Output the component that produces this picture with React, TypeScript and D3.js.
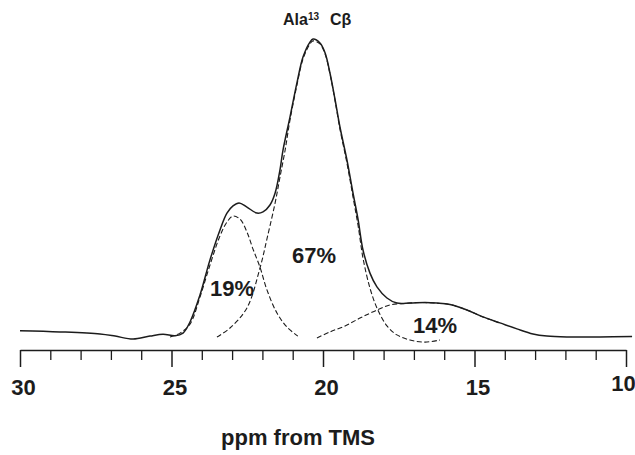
import React, { useRef, useEffect } from 'react';
import * as d3 from 'd3';

// [ppm, intensity]
const spectrumTotal: [number, number][] = [
  [30.0, 2.1], [28.68, 1.7], [27.36, 1.0], [26.86, 0.3], [26.27, -0.7], [25.71, 0.3],
  [25.28, 0.9], [24.88, 0.4], [24.62, 1.3], [24.39, 5.0], [24.06, 14.0], [23.73, 25.7],
  [23.4, 35.7], [23.17, 41.3], [22.97, 43.7], [22.77, 44.7], [22.51, 43.3], [22.18, 41.3],
  [21.98, 41.7], [21.75, 44.0], [21.58, 48.0], [21.42, 55.7], [21.32, 62.3], [21.09, 73.3],
  [20.86, 84.7], [20.66, 93.3], [20.43, 98.3], [20.33, 99.3], [20.1, 98.0], [19.93, 94.7],
  [19.77, 88.0], [19.6, 79.0], [19.44, 70.0], [19.21, 59.0], [19.01, 48.0], [18.84, 39.0],
  [18.68, 29.0], [18.45, 21.3], [18.22, 16.7], [17.89, 13.0], [17.56, 11.3], [17.13, 11.3],
  [16.63, 11.5], [16.24, 11.3], [15.81, 10.8], [15.25, 9.0], [14.72, 6.7], [14.16, 4.7],
  [13.6, 2.7], [13.07, 1.0], [12.61, 0.3], [11.95, 0.0], [10.86, 0.0], [9.8, 0.2],
];

const peak19: [number, number][] = [
  [25.05, 0], [24.72, 1.3], [24.39, 4.3], [24.06, 13.3], [23.73, 24.0], [23.4, 33.7],
  [23.17, 38.3], [22.97, 40.3], [22.74, 39.3], [22.51, 35.0], [22.31, 29.3], [22.08, 23.3],
  [21.85, 15.7], [21.52, 8.0], [21.19, 3.3], [20.83, 0.3],
];

const peak67: [number, number][] = [
  [23.5, 0], [23.07, 3.0], [22.51, 9.7], [22.08, 23.0], [21.82, 34.0], [21.58, 44.7],
  [21.42, 53.3], [21.25, 62.3], [21.09, 72.3], [20.86, 84.0], [20.66, 92.7], [20.43, 97.7],
  [20.33, 98.7], [20.1, 97.7], [19.93, 94.3], [19.77, 87.7], [19.6, 78.7], [19.44, 69.3],
  [19.21, 58.0], [19.01, 46.7], [18.84, 37.0], [18.68, 26.3], [18.45, 16.3], [18.22, 9.7],
  [17.89, 3.7], [17.56, 0.7], [17.13, -1.0], [16.63, -1.7], [16.14, -1.0],
];

const peak14: [number, number][] = [
  [20.2, -0.3], [19.77, 1.7], [19.27, 3.7], [18.78, 6.3], [18.28, 8.7], [17.79, 10.7],
  [17.29, 11.2], [16.8, 11.5], [16.3, 11.3], [15.81, 10.8], [15.25, 9.0], [14.72, 6.7],
  [14.16, 4.7],
];

const majorTicks = [30, 25, 20, 15, 10];
const minorTicks = d3.range(10, 31).filter(v => v % 5 !== 0);

const peakLabels = [
  { text: '19%', ppm: 23.73, value: 13.7 },
  { text: '67%', ppm: 21.02, value: 24.7 },
  { text: '14%', ppm: 17.03, value: 1.3 },
];

export default function App() {
  const svgRef = useRef<SVGSVGElement>(null);

  useEffect(() => {
    const svg = d3.select(svgRef.current);
    const width = 635;
    const height = 455;
    const font = "'Liberation Sans', Arial, Helvetica, sans-serif";
    const ink = '#1c1c1c';

    svg.attr('width', width).attr('height', height);
    svg.selectAll('*').remove();

    const x = d3.scaleLinear().domain([30, 10]).range([20, 626]);
    const y = d3.scaleLinear().domain([0, 100]).range([337, 37]);
    const axisY = 350;

    const line = d3.line<[number, number]>()
      .x(d => x(d[0]))
      .y(d => y(d[1]))
      .curve(d3.curveCatmullRom.alpha(0.5));

    // fitted components
    [peak19, peak67, peak14].forEach(p => {
      svg.append('path')
        .datum(p)
        .attr('fill', 'none')
        .attr('stroke', ink)
        .attr('stroke-width', 1.1)
        .attr('stroke-dasharray', '5,2.5')
        .attr('d', line);
    });

    // observed spectrum
    svg.append('path')
      .datum(spectrumTotal)
      .attr('fill', 'none')
      .attr('stroke', ink)
      .attr('stroke-width', 1.5)
      .attr('d', line);

    // axis
    const minor = svg.append('g')
      .attr('transform', `translate(0,${axisY})`)
      .call(d3.axisBottom(x).tickValues(minorTicks).tickSize(10).tickSizeOuter(0).tickFormat(() => ''));
    minor.select('.domain').remove();
    minor.selectAll('line').attr('stroke', ink).attr('stroke-width', 1.3);

    const major = svg.append('g')
      .attr('transform', `translate(0,${axisY})`)
      .call(d3.axisBottom(x).tickValues(majorTicks).tickSize(17).tickSizeOuter(0).tickPadding(12)
        .tickFormat(d3.format('d')));
    major.select('.domain').attr('stroke', ink).attr('stroke-width', 1.5);
    major.selectAll('line').attr('stroke', ink).attr('stroke-width', 1.5);
    major.selectAll('text')
      .attr('font-family', font)
      .attr('font-size', 22)
      .attr('font-weight', 'bold')
      .attr('fill', ink)
      .attr('dx', (d: any) => (d === 10 ? -3 : 3))
      .attr('dy', (d: any) => (d === 10 ? '0.55em' : '0.71em'));

    svg.append('text')
      .attr('x', 298)
      .attr('y', 445)
      .attr('text-anchor', 'middle')
      .attr('font-family', font)
      .attr('font-size', 22)
      .attr('font-weight', 'bold')
      .attr('fill', ink)
      .text('ppm from TMS');

    // peak percentages
    svg.selectAll('.pct')
      .data(peakLabels)
      .enter()
      .append('text')
      .attr('x', d => x(d.ppm))
      .attr('y', d => y(d.value))
      .attr('font-family', font)
      .attr('font-size', 22)
      .attr('font-weight', 'bold')
      .attr('fill', ink)
      .text(d => d.text);

    // assignment label
    const title = svg.append('text')
      .attr('x', 283)
      .attr('y', 25)
      .attr('font-family', font)
      .attr('font-size', 16)
      .attr('font-weight', 'bold')
      .attr('fill', ink);
    title.append('tspan').text('Ala');
    title.append('tspan').attr('font-size', 10).attr('dy', -5).text('13');
    title.append('tspan').attr('x', 330).attr('dy', 5).text('Cβ');
  }, []);

  return <svg ref={svgRef} style={{ position: 'absolute', left: 0, top: 0, background: '#fff' }} />;
}
